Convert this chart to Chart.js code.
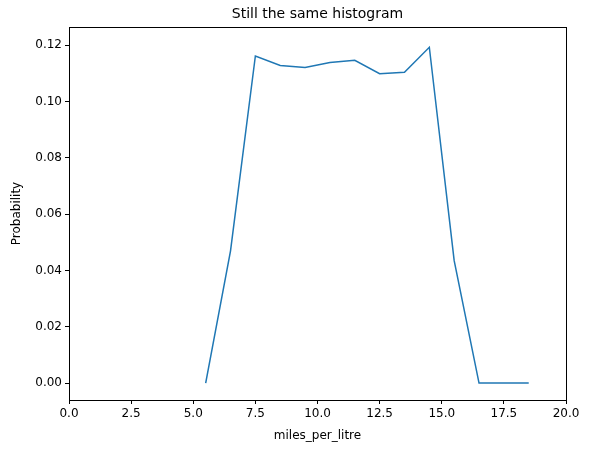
<!DOCTYPE html>
<html>
<head>
<script src="https://cdn.jsdelivr.net/npm/chart.js@4"></script>
<style>body{margin:0;background:#fff}</style>
</head>
<body>
<canvas id="c" width="591" height="453"></canvas>
<script>
const binCentres = [5.5, 6.5, 7.5, 8.5, 9.5, 10.5, 11.5, 12.5, 13.5, 14.5, 15.5, 16.5, 17.5, 18.5];
const probabilities = [0, 0.047, 0.1162, 0.1128, 0.1121, 0.1139, 0.1147, 0.1099, 0.1104, 0.1193, 0.0435, 0, 0, 0];
const yTickValues = [0, 0.02, 0.04, 0.06, 0.08, 0.10, 0.12];

const font = { family: 'DejaVu Sans', size: 12 };

// frame + title, matplotlib style
const framePlugin = {
  id: 'frame',
  afterDraw(chart) {
    const { ctx, chartArea: a } = chart;
    ctx.save();
    ctx.strokeStyle = '#000';
    ctx.lineWidth = 1;
    ctx.strokeRect(a.left + 0.5, a.top + 0.5, a.right - a.left, a.bottom - a.top);
    ctx.fillStyle = '#000';
    ctx.font = '14px DejaVu Sans';
    ctx.textAlign = 'center';
    ctx.textBaseline = 'bottom';
    ctx.fillText('Still the same histogram', (a.left + a.right) / 2, a.top - 6);
    ctx.restore();
  }
};

new Chart(document.getElementById('c'), {
  type: 'scatter',
  data: {
    datasets: [{
      data: binCentres.map((x, i) => ({ x, y: probabilities[i] })),
      showLine: true,
      borderColor: '#1f77b4',
      borderWidth: 1.5,
      pointRadius: 0,
      tension: 0
    }]
  },
  options: {
    responsive: false,
    animation: false,
    layout: { padding: { top: 27, right: 25 } },
    plugins: { legend: { display: false }, tooltip: { enabled: false } },
    scales: {
      x: {
        type: 'linear', min: 0, max: 20,
        ticks: { stepSize: 2.5, color: '#000', font, callback: v => v.toFixed(1) },
        grid: { drawOnChartArea: false, tickLength: 4, color: '#000' },
        border: { display: false },
        title: { display: true, text: 'miles_per_litre', color: '#000', font, padding: { top: 1, bottom: 10 } },
        afterFit(s) { s.height = 53; }
      },
      y: {
        min: -0.006, max: 0.1265,
        afterBuildTicks(s) { s.ticks = yTickValues.map(v => ({ value: v })); },
        ticks: { color: '#000', font, callback: v => v.toFixed(2) },
        grid: { drawOnChartArea: false, tickLength: 4, color: '#000' },
        border: { display: false },
        title: { display: true, text: 'Probability', color: '#000', font, padding: { top: 10, bottom: 4 } },
        afterFit(s) { s.width = 69; }
      }
    }
  },
  plugins: [framePlugin]
});
</script>
</body>
</html>
